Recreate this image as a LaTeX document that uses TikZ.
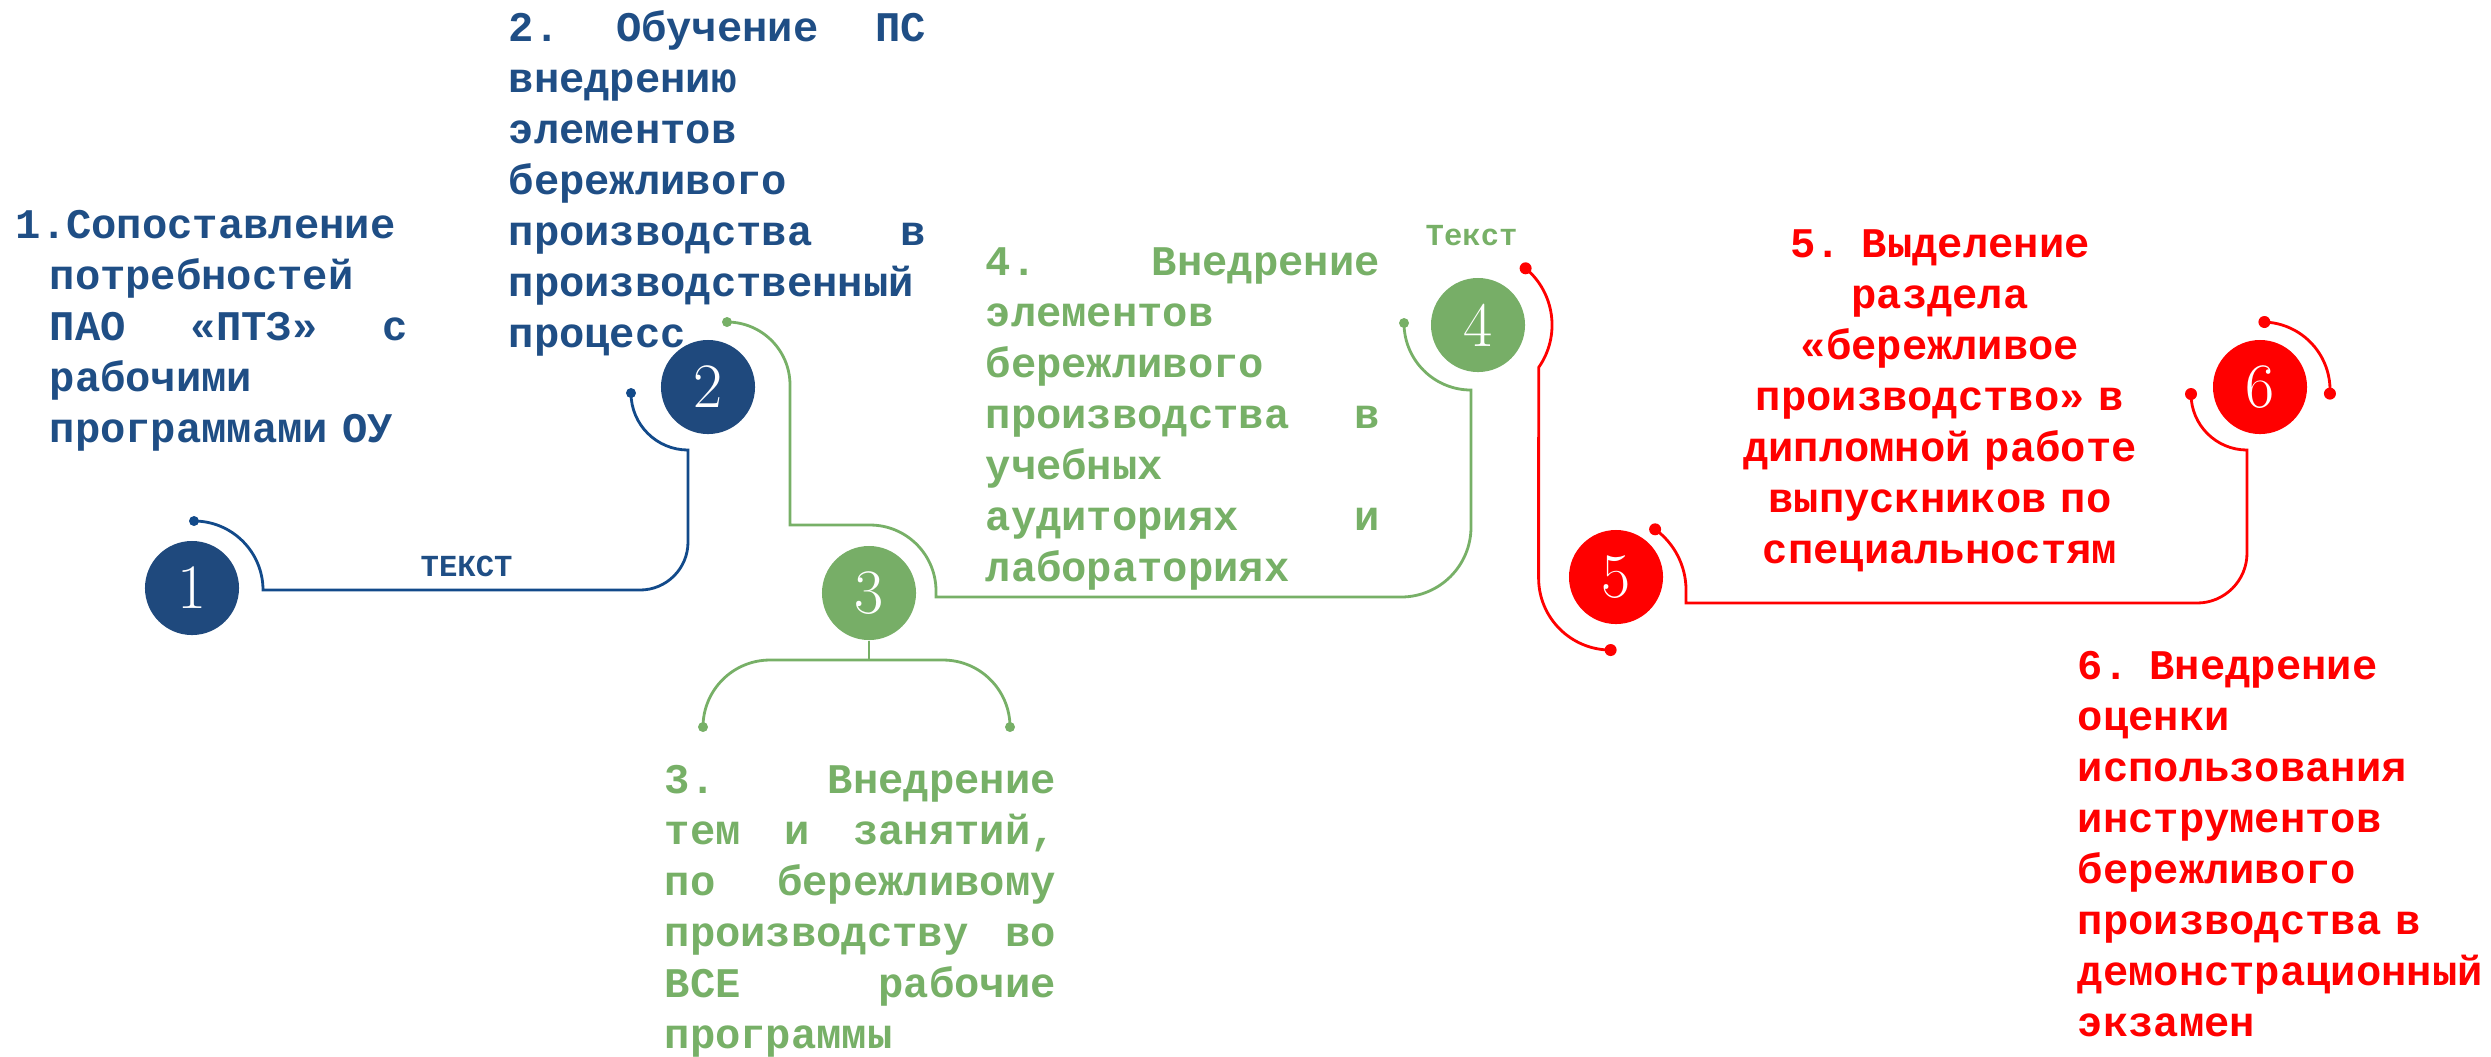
\documentclass[tikz,border=0pt]{standalone}
\usepackage{fontspec}
\newfontfamily\cour{Liberation Mono}
\definecolor{cblue}{HTML}{1F497D}
\definecolor{tblue}{HTML}{1F4E85}
\definecolor{lblue}{HTML}{124A8A}
\definecolor{cgreen}{HTML}{77AE67}
\definecolor{tgreen}{HTML}{77B067}
\definecolor{cred}{HTML}{FF0000}
\newcommand\jl[1]{\leavevmode\hbox to\linewidth{#1}}
\begin{document}
\begin{tikzpicture}[x=0.01cm,y=-0.01cm,
  num/.style={circle,minimum size=0.94cm,inner sep=0pt,text=white,font=\fontsize{18}{18}\selectfont},
  txt/.style={anchor=base west,inner sep=0pt,align=left,font=\cour\bfseries\fontsize{12}{14.52}\selectfont},
  ctxt/.style={anchor=base,inner sep=0pt,align=center,font=\cour\bfseries\fontsize{12}{14.52}\selectfont},
  lbl/.style={anchor=base west,inner sep=0pt,font=\cour\bfseries\fontsize{8.7}{10}\selectfont},
  conn/.style={line width=0.8pt},
  bluedot/.style={fill=lblue},
  greendot/.style={fill=tgreen},
  reddot/.style={fill=cred}
]
\useasboundingbox (0,0) rectangle (2491,1056);

% circles
\node[num,fill=cblue] (c1) at (192,588) {1};
\node[num,fill=cblue] (c2) at (708,387) {2};
\node[num,fill=cgreen] (c3) at (869,593) {3};
\node[num,fill=cgreen] (c4) at (1478,325) {4};
\node[num,fill=cred] (c5) at (1616,577) {5};
\node[num,fill=cred] (c6) at (2260,387) {6};

% texts
\node[txt,text=tblue,text width=3.58cm] (t1) at (49,238) {\hspace*{-0.34cm}1.Сопоставление\\
потребностей\\
\jl{ПАО\hfill«ПТЗ»\hfill с}\\
рабочими\\
программами ОУ};

\node[txt,text=tblue,text width=4.17cm] (t2) at (508,41) {\jl{2.\hfill Обучение\hfill ПС}\\
внедрению\\
элементов\\
бережливого\\
\jl{производства\hfill в}\\
производственный\\
процесс};

\node[txt,text=tgreen,text width=3.91cm] (t3) at (664,793) {\jl{3.\hfill Внедрение}\\
\jl{тем\hfill и\hfill занятий,}\\
\jl{по\hfill бережливому}\\
\jl{производству\hfill во}\\
\jl{ВСЕ\hfill рабочие}\\
программы};

\node[txt,text=tgreen,text width=3.94cm] (t4) at (985,275) {\jl{4.\hfill Внедрение}\\
элементов\\
бережливого\\
\jl{производства\hfill в}\\
учебных\\
\jl{аудиториях\hfill и}\\
лабораториях};

\node[ctxt,text=cred,text width=4.6cm] (t5) at (1940,257) {5. Выделение\\
раздела\\
«бережливое\\
производство» в\\
дипломной работе\\
выпускников по\\
специальностям};

\node[txt,text=cred,text width=4.1cm] (t6) at (2077,679) {6. Внедрение\\
оценки\\
использования\\
инструментов\\
бережливого\\
производства в\\
демонстрационный\\
экзамен};

\node[lbl,text=tblue] (l1) at (420,576) {ТЕКСТ};
\node[lbl,text=tgreen] (l2) at (1425,245) {Текст};

% connector dots
\coordinate (b1) at (194,521);
\coordinate (b2) at (631,393);
\coordinate (g1) at (727,322);
\coordinate (g2) at (1404,323);
\coordinate (g3) at (703,727);
\coordinate (g4) at (1010,727);
\coordinate (r1) at (1525.6,268.3);
\coordinate (r2) at (1610.6,650);
\coordinate (r3) at (1655.1,529.3);
\coordinate (r4) at (2191,394);
\coordinate (r5) at (2264.4,322);
\coordinate (r6) at (2329.9,393.6);

% blue connector 1 -> 2
\draw[conn,lblue] (b1) arc[start angle=-90,end angle=0,radius=69] -- (640,590)
  arc[start angle=90,end angle=0,radius=48] -- (688,450)
  arc[start angle=90,end angle=180,radius=57];
\fill[bluedot] (b1) circle[radius=5];
\fill[bluedot] (b2) circle[radius=5];

% green connector 2 -> 3 -> 4
\draw[conn,tgreen] (g1) arc[start angle=-90,end angle=0,radius=63] -- (790,525) -- (870,525)
  arc[start angle=-90,end angle=0,radius=66] -- (936,597) -- (1401,597)
  arc[start angle=90,end angle=0,radius=70] -- (1471,390)
  arc[start angle=90,end angle=180,radius=67];
\fill[greendot] (g1) circle[radius=5];
\fill[greendot] (g2) circle[radius=5];

% green bracket under 3
\draw[conn,tgreen] (c3.south) -- (869,660);
\draw[conn,tgreen] (g3) arc[start angle=180,end angle=270,radius=67] -- (943,660)
  arc[start angle=-90,end angle=0,radius=67];
\fill[greendot] (g3) circle[radius=5];
\fill[greendot] (g4) circle[radius=5];

% red connector 4 -> 5
\draw[conn,cred] (r1) arc[start angle=-50,end angle=35,radius=74] -- (1538.6,578)
  arc[start angle=180,end angle=90,radius=72];
\fill[reddot] (r1) circle[radius=6];
\fill[reddot] (r2) circle[radius=6];

% red connector 5 -> 6
\draw[conn,cred] (r3) arc[start angle=-54,end angle=0,radius=75] -- (1686,603) -- (2197,603)
  arc[start angle=90,end angle=0,radius=50] -- (2247,450)
  arc[start angle=90,end angle=180,radius=56];
\fill[reddot] (r3) circle[radius=6];
\fill[reddot] (r4) circle[radius=6];

% red arc around 6
\draw[conn,cred] (r5) arc[start angle=-88,end angle=3,radius=68];
\fill[reddot] (r5) circle[radius=6];
\fill[reddot] (r6) circle[radius=6];
\end{tikzpicture}
\end{document}
